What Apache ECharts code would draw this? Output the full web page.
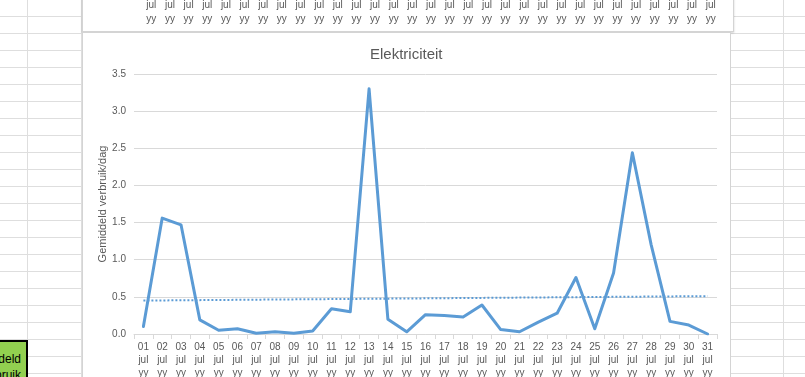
<!DOCTYPE html>
<html>
<head>
<meta charset="utf-8">
<script src="https://cdn.jsdelivr.net/npm/echarts@6/dist/echarts.min.js"></script>
<style>
  html, body { margin: 0; padding: 0; width: 805px; height: 377px; overflow: hidden; background: #fff; font-family: 'Liberation Sans', sans-serif; }
  #sheet { position: absolute; left: 0; top: 0; width: 805px; height: 377px;
    background-image:
      linear-gradient(to bottom, transparent 16px, #dedede 16px, #dedede 17px);
    background-size: 805px 17px; }
  .vline { position: absolute; top: 0; width: 1px; height: 377px; background: #dedede; }
  #greencell { position: absolute; left: -60px; top: 340px; width: 88px; height: 60px; background: #92D050;
    border-top: 2px solid #000; border-right: 2px solid #000; color: #000; font-size: 12px; line-height: 16px;
    text-align: right; padding-right: 5px; box-sizing: border-box; padding-top: 9px; font-family: 'Liberation Sans', sans-serif; }
  #topbox { position: absolute; left: 82px; top: -20px; width: 650px; height: 50px; background: #fff;
    border: 1px solid #d4d4d4; box-shadow: 0 1px 2px rgba(0,0,0,0.18); }
  #mainbox { position: absolute; left: 82px; top: 31px; width: 647px; height: 400px; background: #fff;
    border: 1px solid #d4d4d4; border-top: 2px solid #d4d4d4; }
  #chart { position: absolute; left: 0; top: 0; width: 805px; height: 377px; }
</style>
</head>
<body>
<div id="sheet"></div>
<div class="vline" style="left:27px"></div>
<div class="vline" style="left:81px"></div>
<div class="vline" style="left:783px"></div>
<div id="greencell">Gemiddeld<br>verbruik</div>
<div id="topbox"></div>
<div id="mainbox"></div>
<div id="chart"></div>
<script>
const days = ['01','02','03','04','05','06','07','08','09','10','11','12','13','14','15','16','17','18','19','20','21','22','23','24','25','26','27','28','29','30','31'];
const monthLabel = 'jul';
const yearLabel = 'yy';
const usage = [0.10,1.56,1.47,0.19,0.05,0.07,0.01,0.03,0.01,0.04,0.34,0.30,3.30,0.20,0.03,0.26,0.25,0.23,0.39,0.06,0.03,0.16,0.28,0.76,0.07,0.82,2.44,1.20,0.17,0.12,0.00];
const trendStart = 0.45;
const trendEnd = 0.51;
const yTicks = ['0.0','0.5','1.0','1.5','2.0','2.5','3.0','3.5'];
const titleText = 'Elektriciteit';
const yTitle = 'Gemiddeld verbruik/dag';

const grey = '#595959';
const font = 'Liberation Sans';
const chart = echarts.init(document.getElementById('chart'), null, { renderer: 'canvas' });
chart.setOption({
  animation: false,
  backgroundColor: 'transparent',
  title: { text: titleText, left: 365, top: 42,
    textStyle: { color: grey, fontSize: 15, fontWeight: 'normal', fontFamily: font } },
  grid: [
    { left: 134, width: 583, top: 74, height: 260, containLabel: false, outerBoundsMode: 'none' },
    { left: 142, width: 578, top: -53, height: 30, containLabel: false, outerBoundsMode: 'none' }
  ],
  xAxis: [
    { type: 'category', gridIndex: 0, data: days, boundaryGap: true,
      axisLine: { lineStyle: { color: '#d9d9d9', width: 1 } },
      axisTick: { show: true, length: 5, lineStyle: { color: '#d9d9d9' } },
      axisLabel: { interval: 0, margin: 7, color: grey, fontSize: 10, fontFamily: font, lineHeight: 13,
        formatter: v => v + '\n' + monthLabel + '\n' + yearLabel } },
    { type: 'category', gridIndex: 1, data: days, boundaryGap: true,
      axisLine: { show: false }, axisTick: { show: false },
      axisLabel: { interval: 0, margin: 8, color: grey, fontSize: 10, fontFamily: font, lineHeight: 13.5,
        formatter: v => v + '\n' + monthLabel + '\n' + yearLabel } }
  ],
  yAxis: [
    { type: 'value', gridIndex: 0, min: 0, max: 3.5, interval: 0.5,
      name: yTitle, nameLocation: 'middle', nameGap: 26, nameMoveOverlap: false,
      nameTextStyle: { color: grey, fontSize: 11, fontFamily: font },
      axisLine: { show: false }, axisTick: { show: false },
      axisLabel: { margin: 8, color: grey, fontSize: 10, fontFamily: font,
        formatter: (v) => yTicks[Math.round(v / 0.5)] },
      splitLine: { lineStyle: { color: '#d9d9d9', width: 1 } } },
    { type: 'value', gridIndex: 1, show: false }
  ],
  series: [
    { type: 'line', xAxisIndex: 0, yAxisIndex: 0, data: usage, showSymbol: false, symbol: 'none',
      lineStyle: { color: '#5B9BD5', width: 3, cap: 'round', join: 'round' }, z: 3 },
    { type: 'line', xAxisIndex: 0, yAxisIndex: 0, data: [[0, trendStart], [days.length - 1, trendEnd]],
      showSymbol: false, symbol: 'none',
      lineStyle: { color: '#5B9BD5', width: 2, type: [2, 2] }, z: 2 }
  ]
});
</script>
</body>
</html>
